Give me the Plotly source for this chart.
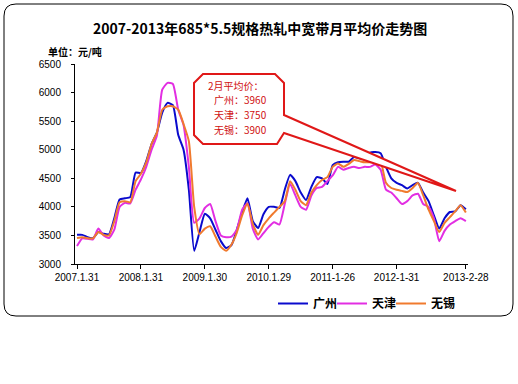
import plotly.graph_objects as go

# ---------------- data ----------------
months = list(range(74))  # 2007-01 .. 2013-02
tick_idx = [0, 12, 24, 36, 48, 60, 73]
tick_labels = ["2007.1.31", "2008.1.31", "2009.1.30", "2010.1.29", "2011-1-26", "2012-1-31", "2013-2-28"]

guangzhou = [3510, 3510, 3470, 3450, 3560, 3530, 3520, 3800, 4130, 4150,
             4170, 4600, 4590, 4800, 5100, 5300, 5650, 5820, 5780, 5260,
             5000, 4300, 3230, 3560, 3880, 3800, 3600, 3400, 3280, 3330,
             3600, 3900, 4150, 3750, 3630, 3870, 4000, 4000, 3980, 4300,
             4560, 4450, 4250, 4120, 4350, 4520, 4500, 4400, 4730, 4780,
             4790, 4790, 4870, 4850, 4850, 4950, 4960, 4940, 4700, 4500,
             4420, 4380, 4320, 4380, 4420, 4250, 4100, 3850, 3620, 3800,
             3910, 3920, 4030, 3960]
tianjin = [3315, 3450, 3440, 3430, 3620, 3500, 3455, 3600, 4000, 4070,
           4060, 4300, 4480, 4700, 5000, 5250, 6050, 6170, 6150, 5700,
           5430, 4700, 3720, 3800, 3980, 4050, 3750, 3500, 3470, 3480,
           3600, 3950, 4065, 3620, 3430, 3540, 3650, 3730, 3690, 4050,
           4400, 4200, 4000, 3950, 4200, 4330, 4350, 4450, 4550, 4700,
           4650, 4680, 4700, 4680, 4700, 4700, 4740, 4650, 4300, 4250,
           4150, 4050, 4100, 4200, 4230, 4050, 4000, 3800, 3400, 3580,
           3690, 3750, 3800, 3750]
wuxi = [3455, 3470, 3450, 3450, 3560, 3510, 3500, 3750, 4080, 4100,
        4080, 4450, 4580, 4780, 5100, 5300, 5700, 5760, 5760, 5700,
        5450, 5150, 4000, 3520, 3620, 3660, 3480, 3300, 3230, 3340,
        3550, 3850, 4060, 3700, 3510, 3680, 3800, 3900, 4000, 4100,
        4450, 4300, 4100, 4030, 4250, 4380, 4470, 4520, 4700, 4760,
        4700, 4750, 4820, 4800, 4780, 4780, 4780, 4780, 4420, 4330,
        4300, 4280, 4260, 4330, 4420, 4200, 3950, 3750, 3560, 3720,
        3820, 3920, 4030, 3900]

series_names = ["广州", "天津", "无锡"]
series_colors = ["#0A0ACD", "#E22EE2", "#F07A2E"]
callout_title = "2月平均价："
callout_cities = ["广州", "天津", "无锡"]
callout_values = [3960, 3750, 3900]

# ---------------- layout geometry ----------------
W, H = 518, 384
L, R, T, B = 75, 468, 64, 264  # plot area in pixels


def px(x, y):
    return (x - L) / (R - L), (B - y) / (B - T)


def pth(points):
    parts = []
    for cmd, pts in points:
        coords = []
        for (x, y) in pts:
            a, b = px(x, y)
            coords.append(f"{a:.5f},{b:.5f}")
        parts.append(cmd + " " + " ".join(coords))
    return " ".join(parts) + " Z"


CJK = "Noto Sans CJK SC"
NUM = "Liberation Sans, Arial"

legend_ids = ["legend", "legend2", "legend3"]
legend_px = [273, 332, 391]

fig = go.Figure()
for name, vals, col, lid in zip(series_names, [guangzhou, tianjin, wuxi], series_colors, legend_ids):
    fig.add_trace(go.Scatter(x=months, y=vals, mode="lines", name=name, legend=lid,
                             line=dict(color=col, width=2, shape="spline", smoothing=0.5)))

shapes = []
# outer rounded border
l, r, t, b, rad = 4, 513, 4, 316, 12
border = pth([("M", [(l + rad, t)]), ("L", [(r - rad, t)]), ("Q", [(r, t), (r, t + rad)]),
              ("L", [(r, b - rad)]), ("Q", [(r, b), (r - rad, b)]),
              ("L", [(l + rad, b)]), ("Q", [(l, b), (l, b - rad)]),
              ("L", [(l, t + rad)]), ("Q", [(l, t), (l + rad, t)])])
shapes.append(dict(type="path", path=border, xref="paper", yref="paper",
                   line=dict(color="black", width=1), layer="below"))

# callout box with pointer
bl, br, bt, bb, c = 194, 284, 74, 144, 9
tip = (456, 191)
callout = pth([("M", [(bl + c, bt)]), ("L", [(br - c, bt)]), ("L", [(br, bt + c)]),
               ("L", [(br, 115)]), ("L", [tip]), ("L", [(br, 133)]),
               ("L", [(br - c + 2, bb)]), ("L", [(bl + c, bb)]), ("L", [(bl, bb - c)]),
               ("L", [(bl, bt + c)])])
shapes.append(dict(type="path", path=callout, xref="paper", yref="paper",
                   fillcolor="white", line=dict(color="#E01818", width=2), layer="above"))

annotations = []
tx, ty = px(260, 28)
annotations.append(dict(x=tx, y=ty, xref="paper", yref="paper", showarrow=False,
                        text="<b>2007-2013年685*5.5规格热轧中宽带月平均价走势图</b>",
                        font=dict(family=CJK, size=14, color="black"),
                        xanchor="center", yanchor="middle"))
ux, uy = px(46, 52)
annotations.append(dict(x=ux, y=uy, xref="paper", yref="paper", showarrow=False,
                        text="<b>单位：元/吨</b>", font=dict(family=CJK, size=10, color="black"),
                        xanchor="left", yanchor="middle"))
callout_rows = [callout_title] + [cname + "：" + str(v) for cname, v in zip(callout_cities, callout_values)]
row_pos = [(206, 85), (212, 99.8), (212, 114.6), (212, 129.4)]
for (x, y), txt in zip(row_pos, callout_rows):
    ax, ay = px(x, y)
    annotations.append(dict(x=ax, y=ay, xref="paper", yref="paper", showarrow=False,
                            text=txt, font=dict(family=CJK, size=10, color="#D01010"),
                            xanchor="left", yanchor="middle"))

legends = {}
for lid, lxp in zip(legend_ids, legend_px):
    lx, ly = px(lxp, 289)
    legends[lid] = dict(orientation="h", x=lx, y=ly, xanchor="left", yanchor="top",
                        font=dict(family=CJK, size=12, color="black", weight="bold"),
                        bgcolor="rgba(0,0,0,0)", itemwidth=30)

fig.update_layout(
    width=W, height=H,
    margin=dict(l=L, r=W - R, t=T, b=H - B, pad=0),
    paper_bgcolor="white", plot_bgcolor="white",
    showlegend=True,
    xaxis=dict(range=[-0.375, 73.4], tickmode="array", tickvals=tick_idx, ticktext=tick_labels,
               showgrid=False, zeroline=False, showline=True, linecolor="black", linewidth=1,
               ticks="outside", ticklen=4, tickcolor="black",
               tickfont=dict(family=NUM, size=10, color="black")),
    yaxis=dict(range=[3000, 6500], dtick=500, tick0=3000,
               showgrid=False, zeroline=False, showline=True, linecolor="black", linewidth=1,
               ticks="outside", ticklen=3, tickcolor="black", ticklabelstandoff=8,
               tickfont=dict(family=NUM, size=10, color="black")),
    shapes=shapes, annotations=annotations,
    **legends,
)

fig.write_html("out.html", config={"displayModeBar": False},
               post_script="document.body.style.margin='0';")
